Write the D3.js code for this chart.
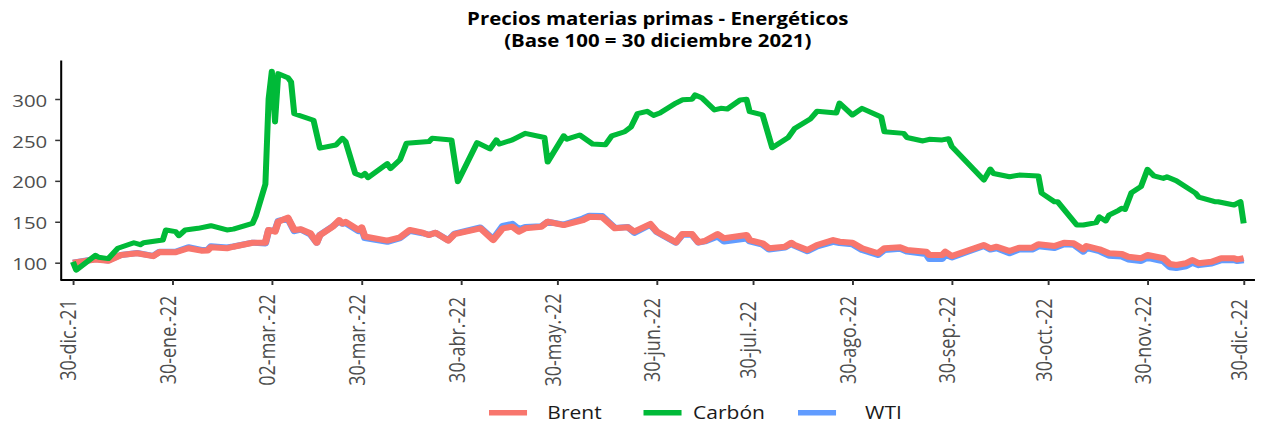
<!DOCTYPE html>
<html><head><meta charset="utf-8">
<script src="https://cdn.jsdelivr.net/npm/d3@7"></script>
<style>body{margin:0;background:#fff}svg{display:block}</style>
</head><body>
<svg id="chart" width="1261" height="423"></svg>
<script>
// ---------------- DATA ----------------
const titleLines = ["Precios materias primas - Energéticos", "(Base 100 = 30 diciembre 2021)"];
const seriesNames = ["Brent", "Carbón", "WTI"];

const oilDates = ["2021-12-30","2022-01-06","2022-01-10","2022-01-14","2022-01-19","2022-01-24","2022-01-26","2022-01-31",
"2022-02-04","2022-02-08","2022-02-10","2022-02-11","2022-02-16","2022-02-18","2022-02-24","2022-02-28",
"2022-03-01","2022-03-03","2022-03-04","2022-03-07","2022-03-09","2022-03-11","2022-03-14","2022-03-16","2022-03-17",
"2022-03-21","2022-03-23","2022-03-24","2022-03-25","2022-03-29","2022-03-30","2022-03-31",
"2022-04-07","2022-04-11","2022-04-14","2022-04-18","2022-04-20","2022-04-22","2022-04-26","2022-04-28",
"2022-05-06","2022-05-10","2022-05-13","2022-05-16","2022-05-18","2022-05-20","2022-05-25","2022-05-27",
"2022-06-01","2022-06-07","2022-06-09","2022-06-13","2022-06-17","2022-06-21","2022-06-23","2022-06-28","2022-06-30",
"2022-07-06","2022-07-08","2022-07-11","2022-07-13","2022-07-15","2022-07-19","2022-07-21","2022-07-28","2022-07-29",
"2022-08-02","2022-08-04","2022-08-09","2022-08-11","2022-08-12","2022-08-16","2022-08-19","2022-08-24","2022-08-26","2022-08-30",
"2022-09-02","2022-09-07","2022-09-09","2022-09-14","2022-09-16","2022-09-22","2022-09-23","2022-09-27","2022-09-28","2022-09-30",
"2022-10-10","2022-10-12","2022-10-14","2022-10-18","2022-10-21","2022-10-25","2022-10-27",
"2022-11-01","2022-11-04","2022-11-07","2022-11-10","2022-11-11","2022-11-15","2022-11-18","2022-11-22","2022-11-24","2022-11-28","2022-11-30",
"2022-12-05","2022-12-07","2022-12-09","2022-12-12","2022-12-14","2022-12-16","2022-12-20","2022-12-23","2022-12-27","2022-12-28","2022-12-30"];

const brentValues = [100,104,102.4,109.4,111.5,108,113,112.7,
117.6,114.7,115,118.8,117.6,119.5,124.4,124.4,
140,138,150,155,140,140.8,136,124.4,133.8,
144,152,148,150,140,143.2,132,
127,131,140,136.7,133.8,136.7,127,135,
142,127.7,142,144,138,142,144,150,
146,152,156,155.5,142,143.2,138,147.3,138,
125,135,135,125,126.5,135,129.8,133.8,127.7,
123.7,117.6,119.5,124.4,121.6,115.5,121.6,127.7,125.7,124.4,
117.6,111.5,117.6,118.8,115.5,113.4,109.4,109.4,113.4,108.2,
121.6,117.6,119.5,114.3,118.3,118.3,122.5,
120.4,124.4,123.7,116.4,120.4,116.4,111.5,110.6,107.3,105.4,109.4,
105.4,98.4,97.2,99.3,103.3,99.3,101.2,105.4,105.4,104,105.4];

const wtiValues = [100,104.5,102.8,109.5,111.8,108.3,113.5,113.5,
119,115.5,115.8,120,118.5,119.8,124.5,123.5,
139.5,139,151,154,138.5,140.5,134.5,124.5,134,
144.5,150.5,147.5,148.5,138.5,142,130,
125.5,130,139,136,134,136.5,127.5,135.5,
143,129,145,147.5,141,143.5,144.5,150,
146.5,154,157.5,157,142.5,143.5,136.5,146.5,137.5,
124.5,134,134,124.5,126,132,126,129.5,126,
122,116,118.5,123,120.5,114,120,125.5,124,122.5,
115.5,109.5,115.5,117,113.5,110.5,104.5,104.5,110,106.5,
120.5,116,117.5,111.5,116,116,120,
118,122.5,122,113.5,118,114,108.5,107.5,104,102,106,
101.5,94.5,93.5,95.5,100,97,99,103,103,102,103];

const carbonDates = ["2021-12-30","2021-12-31","2022-01-06","2022-01-07","2022-01-10","2022-01-13","2022-01-18","2022-01-20","2022-01-21",
"2022-01-27","2022-01-28","2022-01-31","2022-02-01","2022-02-03","2022-02-07","2022-02-11","2022-02-16","2022-02-18","2022-02-24","2022-02-25","2022-02-28",
"2022-03-01","2022-03-02","2022-03-03","2022-03-04","2022-03-07","2022-03-08","2022-03-09","2022-03-15","2022-03-17","2022-03-22","2022-03-24","2022-03-25","2022-03-28","2022-03-30","2022-03-31",
"2022-04-01","2022-04-07","2022-04-08","2022-04-11","2022-04-13","2022-04-20","2022-04-21","2022-04-27","2022-04-29",
"2022-05-05","2022-05-09","2022-05-11","2022-05-12","2022-05-16","2022-05-20","2022-05-26","2022-05-27",
"2022-06-01","2022-06-02","2022-06-06","2022-06-10","2022-06-14","2022-06-16","2022-06-20","2022-06-22","2022-06-24","2022-06-27","2022-06-29",
"2022-07-01","2022-07-06","2022-07-08","2022-07-11","2022-07-12","2022-07-14","2022-07-18","2022-07-20","2022-07-22","2022-07-26","2022-07-28","2022-07-29",
"2022-08-02","2022-08-05","2022-08-10","2022-08-12","2022-08-17","2022-08-19","2022-08-25","2022-08-26","2022-08-30",
"2022-09-02","2022-09-08","2022-09-09","2022-09-15","2022-09-16","2022-09-21","2022-09-23","2022-09-27","2022-09-29","2022-09-30",
"2022-10-10","2022-10-12","2022-10-13","2022-10-18","2022-10-21","2022-10-27","2022-10-28",
"2022-11-01","2022-11-02","2022-11-08","2022-11-10","2022-11-14","2022-11-15","2022-11-17","2022-11-18","2022-11-21","2022-11-22","2022-11-23","2022-11-25","2022-11-28","2022-11-30",
"2022-12-02","2022-12-05","2022-12-06","2022-12-09","2022-12-15","2022-12-16","2022-12-21","2022-12-22","2022-12-27","2022-12-29","2022-12-30"];

const carbonValues = [101,91,109,106.6,105,117.6,124.4,122,124.4,
127.7,140,138,133,140,142,145.2,140,141,148,157,196,
300,334,272,331,326,321,282,274,240,243.8,252,248,209,206,209,
204,221,215,226,246,248,252,250,199,
246.6,239,250,245,250,258,253,223,
255,251,256,245,244,255,260,266,282,285,280,
283,295,299,299.6,305,301.6,286.6,288.6,287.8,298.8,299.6,284.5,
280.5,240.5,253,264,276,285,283,295,280.5,
288.6,278,260,258,253,248.7,250.8,250,251.5,242,
201,214.5,209,205,207,206,185,
174.5,174.5,146,146,149,156,151,158,164,166.5,165,185.5,193,214,
206,203,205,200,185,180,174.5,174.5,170.5,174.5,148];

const tickDates = ["2021-12-30","2022-01-30","2022-03-02","2022-03-30","2022-04-30","2022-05-30","2022-06-30",
"2022-07-30","2022-08-30","2022-09-30","2022-10-30","2022-11-30","2022-12-30"];
const tickLabels = ["30-dic.-21","30-ene.-22","02-mar.-22","30-mar.-22","30-abr.-22","30-may.-22","30-jun.-22",
"30-jul.-22","30-ago.-22","30-sep.-22","30-oct.-22","30-nov.-22","30-dic.-22"];
const yTicks = [100, 150, 200, 250, 300];

// ---------------- DRAWING ----------------
const parse = d3.timeParse("%Y-%m-%d");
const colors = {"Brent": "#F8766D", "Carbón": "#00BA38", "WTI": "#619CFF"};
const widths = {"Brent": 6, "Carbón": 5, "WTI": 6};
const SX = 1.2;              // the reference is horizontally stretched
const FONT = "'Open Sans', 'Noto Sans', sans-serif";

const svg = d3.select("#chart");
const root = svg.append("g").attr("transform", `scale(${SX},1)`);

const x = d3.scaleTime()
  .domain([parse("2021-12-30"), parse("2022-12-30")])
  .range([60.8, 1036.4]);
const y = d3.scaleLinear().domain([78.86, 347.65]).range([280, 60]);
const panelLeft = 50.5, panelRight = 1045.8;

// series
const series = [
  {name: "WTI", dates: oilDates, values: wtiValues},
  {name: "Brent", dates: oilDates, values: brentValues},
  {name: "Carbón", dates: carbonDates, values: carbonValues}
];
const line = d3.line().x(d => x(d[0])).y(d => y(d[1]));
series.forEach(s => {
  const pts = s.dates.map((d, i) => [parse(d), s.values[i]]);
  root.append("path").datum(pts)
    .attr("d", line).attr("fill", "none")
    .attr("stroke", colors[s.name]).attr("stroke-width", widths[s.name])
    .attr("stroke-linejoin", "round").attr("stroke-linecap", "butt");
});

// y axis
const yAxis = root.append("g").attr("transform", `translate(${panelLeft},0)`)
  .call(d3.axisLeft(y).tickValues(yTicks).tickSize(4.5).tickSizeOuter(0).tickPadding(6.6));
yAxis.select(".domain").attr("stroke", "#000").attr("stroke-width", 1.7);
yAxis.selectAll(".tick line").attr("stroke", "#333").attr("stroke-width", 1.5);
yAxis.selectAll(".tick text").attr("font-family", FONT).attr("font-size", 17)
  .attr("fill", "#4d4d4d").attr("dy", "0.42em");

// x axis
const xAxis = root.append("g").attr("transform", "translate(0,280)")
  .call(d3.axisBottom(x).tickValues(tickDates.map(parse)).tickSize(5).tickSizeOuter(0)
    .tickFormat((d, i) => tickLabels[i]));
xAxis.select(".domain").attr("d", `M${panelLeft},0H${panelRight}`)
  .attr("stroke", "#000").attr("stroke-width", 2);
xAxis.selectAll(".tick line").attr("stroke", "#333").attr("stroke-width", 1.6);
xAxis.selectAll(".tick text")
  .attr("x", 0).attr("y", 0).attr("dy", 0)
  .attr("text-anchor", "middle")
  .attr("transform", "translate(2.4,60) rotate(-90)")
  .attr("font-family", FONT).attr("font-size", 18).attr("fill", "#4d4d4d");

// title
const title = root.append("g").attr("font-family", FONT).attr("font-weight", "bold")
  .attr("font-size", 17).attr("fill", "#000").attr("text-anchor", "middle");
titleLines.forEach((t, i) => {
  title.append("text").attr("x", (panelLeft + panelRight) / 2).attr("y", 25 + i * 21.7).text(t);
});

// legend
const legendY = 412.7;
const leg = root.append("g");
seriesNames.forEach((n, i) => {
  const x0 = 407.5 + i * 128.75;
  leg.append("line").attr("x1", x0).attr("x2", x0 + 31.7).attr("y1", legendY).attr("y2", legendY)
    .attr("stroke", colors[n]).attr("stroke-width", 5.5);
  leg.append("text").attr("x", x0 + 71.25).attr("y", legendY).attr("dy", "0.36em")
    .attr("text-anchor", "middle").attr("font-family", FONT).attr("font-size", 17.5)
    .attr("fill", "#1a1a1a").text(n);
});
</script>
</body></html>
